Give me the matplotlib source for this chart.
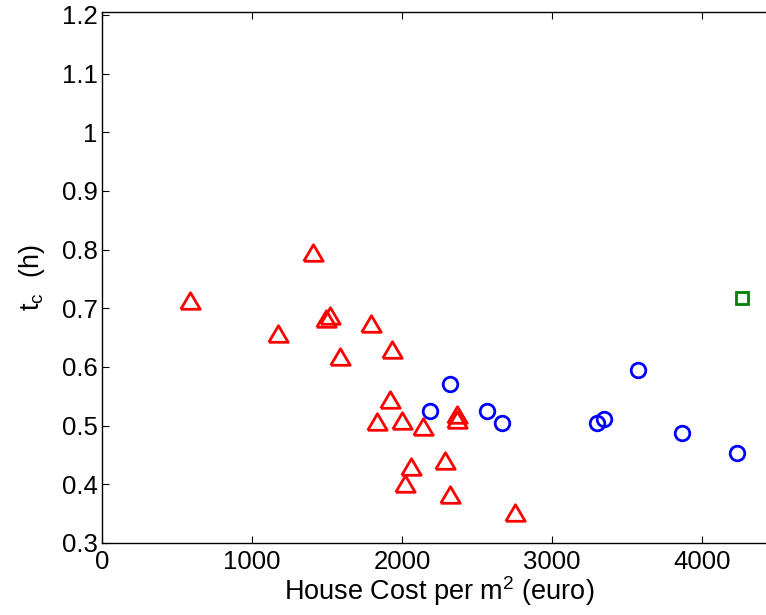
import matplotlib
matplotlib.use("Agg")
import matplotlib.pyplot as plt

# Data
tri_x = [587, 1171, 1409, 1493, 1520, 1589, 1791, 1931, 1920, 1836, 1998, 2142,
         2364, 2369, 2060, 2020, 2289, 2320, 2753]
tri_y = [0.712, 0.657, 0.794, 0.681, 0.687, 0.617, 0.673, 0.629, 0.544, 0.506, 0.508, 0.497,
         0.518, 0.510, 0.430, 0.401, 0.440, 0.381, 0.351]
circ_x = [2187, 2318, 2569, 2669, 3298, 3349, 3571, 3864, 4236]
circ_y = [0.525, 0.571, 0.525, 0.504, 0.505, 0.511, 0.594, 0.487, 0.453]
sq_x = [4269]
sq_y = [0.718]

xticks = [0, 1000, 2000, 3000, 4000]
yticks = [0.3, 0.4, 0.5, 0.6, 0.7, 0.8, 0.9, 1.0, 1.1, 1.2]
ytick_labels = ["0.3", "0.4", "0.5", "0.6", "0.7", "0.8", "0.9", "1", "1.1", "1.2"]

plt.rcParams['font.family'] = ['Liberation Sans', 'DejaVu Sans']

fig = plt.figure(figsize=(7.66, 6.15), dpi=100)
ax = fig.add_axes([102/766, 72/615, 675/766, 531/615])

tri_marker = [(-1, -0.8), (1, -0.8), (0, 0.9), (-1, -0.8)]
ax.plot(tri_x, tri_y, linestyle='none', marker=tri_marker, markersize=14,
        markerfacecolor='none', markeredgecolor='#ff0000', markeredgewidth=2)
ax.plot(circ_x, circ_y, linestyle='none', marker='o', markersize=10.5,
        markerfacecolor='none', markeredgecolor='#0000ff', markeredgewidth=2)
ax.plot(sq_x, sq_y, linestyle='none', marker='s', markersize=8,
        markerfacecolor='none', markeredgecolor='#008000', markeredgewidth=2)

ax.set_xlim(0, 4500)
ax.set_ylim(0.3, 1.205)
ax.set_xticks(xticks)
ax.set_xticklabels([str(t) for t in xticks])
ax.set_yticks(yticks)
ax.set_yticklabels(ytick_labels)
ax.tick_params(direction='in', length=5, width=0.8, labelsize=18.5, top=True, right=True)
ax.tick_params(axis='x', pad=5)
ax.tick_params(axis='y', pad=3)
for s in ax.spines.values():
    s.set_linewidth(1.0)

ax.set_xlabel(r"House Cost per m$^{\mathregular{2}}$ (euro)", fontsize=19.5, labelpad=0)
ax.set_ylabel(r"t$_{\mathregular{c}}$  (h)", fontsize=19.5, labelpad=11)

fig.savefig("out.png", dpi=100)
